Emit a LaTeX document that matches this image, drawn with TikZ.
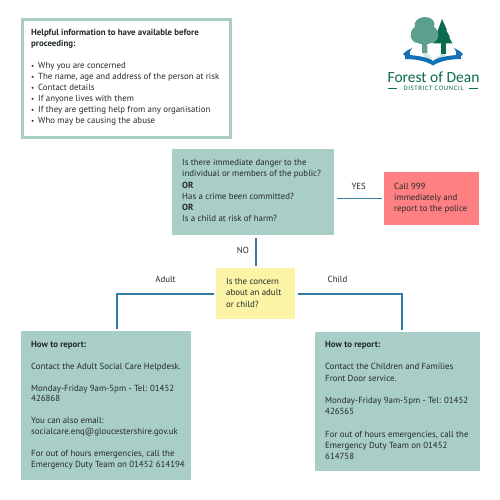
\documentclass[tikz,border=0pt]{standalone}
\usepackage{fontspec}
\setmainfont{PT Sans}
\newfontfamily\logofont{Carlito}
\newfontfamily\logosmall[LetterSpace=9]{Carlito}
\definecolor{teal}{HTML}{A9CEC8}
\definecolor{redbox}{HTML}{FF8082}
\definecolor{yel}{HTML}{FBF3A5}
\definecolor{conn}{HTML}{2F7FA3}
\definecolor{ink}{HTML}{222A2A}
\definecolor{logog}{HTML}{0B6B4F}
\definecolor{logol}{HTML}{5C9F8C}
\definecolor{logob}{HTML}{1470B4}
\newcommand{\bul}{\makebox[7pt][l]{\fontsize{7}{7}\selectfont •}}
\tikzset{x=1pt,y=-1pt,
 boxtext/.style={anchor=north west,inner sep=0pt,align=left,text=ink,font=\fontsize{8.85}{11.2}\selectfont},
 tighttext/.style={boxtext,font=\fontsize{8.85}{10.95}\selectfont},
 lab/.style={inner sep=0pt,text=ink,font=\fontsize{8.85}{11}\selectfont},
 conline/.style={draw=conn,line width=1.8pt,shorten >=2.5pt,shorten <=2.5pt},
 fillbox/.style={anchor=north west,inner sep=0pt,minimum width=#1}}
\begin{document}
\begin{tikzpicture}
\useasboundingbox (0,0) rectangle (500,500);
\fill[white] (0,0) rectangle (500,500);
% boxes
\node[fillbox=208pt,minimum height=117pt,draw=teal,line width=3pt,fill=white] (info) at (20.5,18.5) {};
\node[fillbox=162pt,minimum height=86pt,fill=teal] (danger) at (172,149) {};
\node[fillbox=95pt,minimum height=52.5pt,fill=redbox] (police) at (384,172) {};
\node[fillbox=79pt,minimum height=51pt,fill=yel] (concern) at (216,268) {};
\node[fillbox=170pt,minimum height=149pt,fill=teal] (adult) at (21,331) {};
\node[fillbox=165pt,minimum height=139pt,fill=teal] (child) at (315,332) {};
% text
\node[tighttext] (infot) at (31,29.5) {\textbf{Helpful information to have available before}\\\textbf{proceeding:}\\[10.5pt]
\bul Why you are concerned\\\bul The name, age and address of the person at risk\\\bul Contact details\\\bul If anyone lives with them\\\bul If they are getting help from any organisation\\\bul Who may be causing the abuse};
\node[boxtext] (dangert) at (182,159.3) {Is there immediate danger to the\\individual or members of the public?\\\textbf{OR}\\Has a crime been committed?\\\textbf{OR}\\Is a child at risk of harm?};
\node[boxtext] (policet) at (394,182.5) {Call 999\\immediately and\\report to the police};
\node[boxtext] (concernt) at (226,278.3) {Is the concern\\about an adult\\or child?};
\node[tighttext] (adultt) at (31,340.8) {\textbf{How to report:}\\[10.95pt]Contact the Adult Social Care Helpdesk.\\[10.95pt]Monday-Friday 9am-5pm - Tel: 01452\\426868\\[10.95pt]You can also email:\\socialcare.enq@gloucestershire.gov.uk\\[10.95pt]For out of hours emergencies, call the\\Emergency Duty Team on 01452 614194};
\node[boxtext] (childt) at (325,341) {\textbf{How to report:}\\[11.2pt]Contact the Children and Families\\Front Door service.\\[11.2pt]Monday-Friday 9am-5pm - Tel: 01452\\426565\\[11.2pt]For out of hours emergencies, call the\\Emergency Duty Team on 01452\\614758};
% connectors
\draw[conline] (police.west -| danger.east) -- (police.west);
\draw[conline] (concern.north |- danger.south) -- (concern.north);
\draw[conline] (concern.west) -| ([xshift=11pt]adult.north);
\draw[conline] (concern.east) -| ([xshift=4pt]child.north);
\node[lab] (yes) at (358.7,186.7) {YES};
\node[lab] (no) at (243,250) {NO};
\node[lab] (adl) at (165.5,279) {Adult};
\node[lab] (chl) at (337.5,279) {Child};
% logo
\fill[logol!25] (422,53) -- (427.5,53) -- (433,60) -- (425,58) -- cycle;
\fill[logog!20] (441,54) -- (446,54) -- (441,60) -- (434,60) -- cycle;
\fill[logob] (403,54) .. controls (406,51) and (408,50) .. (412,48) .. controls (410,51) and (409,53) .. (410,55) .. controls (418,56) and (428,57) .. (433,61) .. controls (438,57) and (448,56) .. (456,55) .. controls (457,53) and (456,51) .. (454,48) .. controls (458,50) and (460,51) .. (463,54) .. controls (461,55) and (460,57) .. (461,59) .. controls (450,59) and (440,61) .. (433,65.5) .. controls (426,61) and (416,59) .. (405,59) .. controls (406,57) and (405,55) .. (403,54) -- cycle;
\fill[logog] (441,43) -- (441,54) -- (446,54) -- (446,43) -- cycle;
\fill[logog] (442,19) -- (447,30) -- (446,30) -- (450,37) -- (449,37) -- (452.5,43.5) -- (433,43.5) -- (436,37) -- (435,37) -- (438,30) -- cycle;
\fill[logol] (422,40) -- (422,53) -- (427.5,53) -- (427,40) -- cycle;
\fill[logol] (425,17) .. controls (432,17) and (436,22) .. (434,27) .. controls (441,31) and (439,43) .. (431,43) .. controls (427,45) and (421,45) .. (418,43) .. controls (410,43) and (408,31) .. (415,27) .. controls (413,22) and (418,17) .. (425,17) -- cycle;
\node[inner sep=0pt,text=logog,font=\logofont\fontsize{15.5}{14}\selectfont] (fod) at (433.5,77) {Forest of Dean};
\node[inner sep=0pt,text=logog,font=\logosmall\fontsize{6.8}{6}\selectfont] (dc) at (433.5,88.7) {DISTRICT COUNCIL};
\coordinate (l1) at (388,88.7);\coordinate (l2) at (397,88.7);\coordinate (r1) at (469,88.7);\coordinate (r2) at (478,88.7);
\draw[logog,line width=.8pt] (l1) -- (l2) (r1) -- (r2);
\end{tikzpicture}
\end{document}
